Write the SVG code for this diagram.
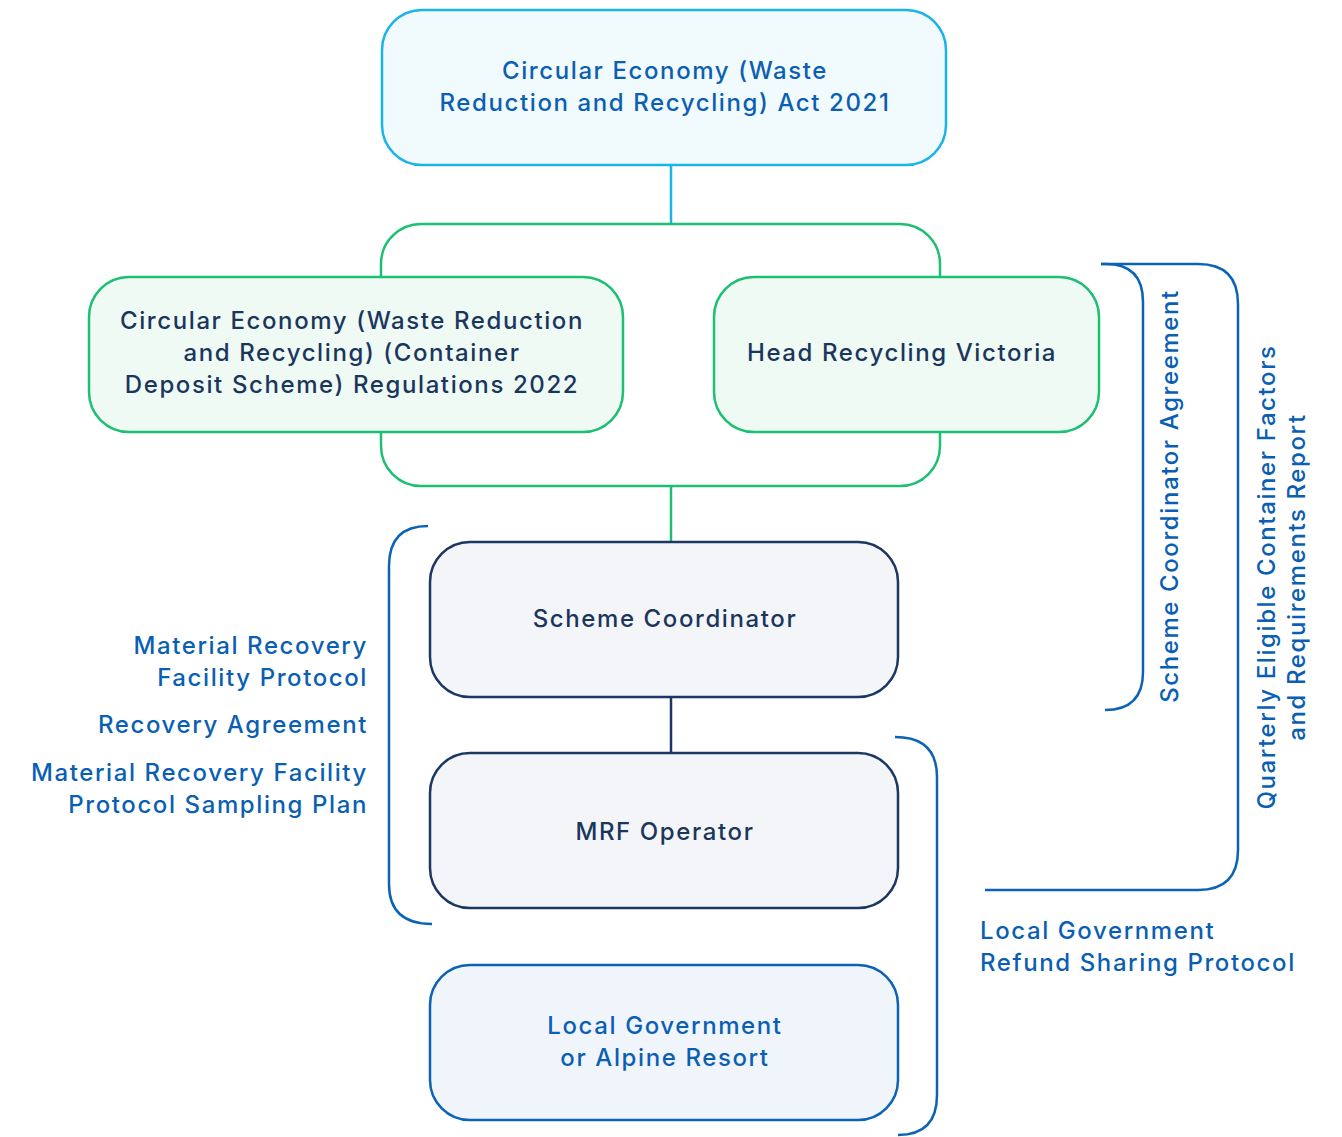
<svg xmlns="http://www.w3.org/2000/svg" width="1342" height="1137" viewBox="0 0 1342 1137">
<style>
text{font-family:Inter,"Noto Sans","Liberation Sans",sans-serif;font-size:24px;font-weight:500;letter-spacing:1.6px}
.c{text-anchor:middle}
.r{text-anchor:end}
.blue{fill:#0b5fb3}
.navy{fill:#1b365d}
.box{stroke-width:2.5}
.cyan{fill:#f1fafd;stroke:#1ab4e6}
.green{fill:#effaf5;stroke:#1dbf73}
.grey{fill:#f3f5f9;stroke:#1b3764}
.lg{fill:#eff5fb;stroke:#0b63b5}
.br{fill:none;stroke:#0b63b5;stroke-width:2.5}
</style>
<g id="connectors" fill="none" stroke-width="2.5">
<line x1="671" y1="165" x2="671" y2="224" stroke="#1ab4e6"/>
<rect x="381" y="224" width="559" height="262" rx="40" stroke="#1dbf73"/>
<line x1="671" y1="486" x2="671" y2="542" stroke="#1dbf73"/>
<line x1="671" y1="697" x2="671" y2="753" stroke="#1b3764"/>
</g>
<g id="act">
<rect class="box cyan" x="382" y="10" width="564" height="155" rx="40"/>
<text class="c blue" x="665" y="79">Circular Economy (Waste</text>
<text class="c blue" x="665" y="111">Reduction and Recycling) Act 2021</text>
</g>
<g id="regulations">
<rect class="box green" x="89" y="277" width="534" height="155" rx="40"/>
<text class="c navy" x="352" y="329">Circular Economy (Waste Reduction</text>
<text class="c navy" x="352" y="361">and Recycling) (Container</text>
<text class="c navy" x="352" y="393">Deposit Scheme) Regulations 2022</text>
</g>
<g id="hrv">
<rect class="box green" x="714" y="277" width="385" height="155" rx="40"/>
<text class="c navy" x="902" y="361">Head Recycling Victoria</text>
</g>
<g id="scheme-coordinator">
<rect class="box grey" x="430" y="542" width="468" height="155" rx="40"/>
<text class="c navy" x="665" y="627">Scheme Coordinator</text>
</g>
<g id="mrf-operator">
<rect class="box grey" x="430" y="753" width="468" height="155" rx="40"/>
<text class="c navy" x="665" y="840">MRF Operator</text>
</g>
<g id="local-government">
<rect class="box lg" x="430" y="965" width="468" height="155" rx="40"/>
<text class="c blue" x="665" y="1034">Local Government</text>
<text class="c blue" x="665" y="1066">or Alpine Resort</text>
</g>
<g id="brackets">
<path class="br" d="M428,526 Q389,526 389,566 V884 Q389,924 432,924"/>
<path class="br" d="M1101,264 H1106 Q1143,264 1143,302 V672 Q1143,710 1105,710"/>
<path class="br" d="M1101,264 H1198 Q1238,264 1238,304 V850 Q1238,890 1198,890 H985"/>
<path class="br" d="M895,737 Q937,737 937,777 V1095 Q937,1135 898,1135"/>
</g>
<g id="labels">
<text class="r blue" x="368" y="654">Material Recovery</text>
<text class="r blue" x="368" y="686">Facility Protocol</text>
<text class="r blue" x="368" y="733">Recovery Agreement</text>
<text class="r blue" x="368" y="781">Material Recovery Facility</text>
<text class="r blue" x="368" y="813">Protocol Sampling Plan</text>
<text class="blue" x="980" y="939">Local Government</text>
<text class="blue" x="980" y="971">Refund Sharing Protocol</text>
<text class="c blue" transform="translate(1178,496) rotate(-90)">Scheme Coordinator Agreement</text>
<text class="c blue" transform="translate(1275,577) rotate(-90)">Quarterly Eligible Container Factors</text>
<text class="c blue" transform="translate(1305,577) rotate(-90)">and Requirements Report</text>
</g>
</svg>
